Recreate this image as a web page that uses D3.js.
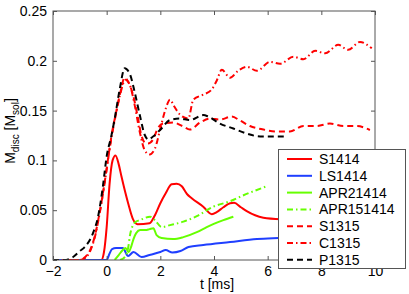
<!DOCTYPE html>
<html><head><meta charset="utf-8">
<script src="https://cdn.jsdelivr.net/npm/d3@7"></script>
<style>body{margin:0;background:#fff}svg{display:block}text{font-family:"Liberation Sans",Arial,sans-serif}</style>
</head><body><svg id="c" width="409" height="294"></svg>
<script>
const xTicks=[-2,0,2,4,6,8,10];
const yTicks=[0,0.05,0.1,0.15,0.2,0.25];
const yTickLabels=["0","0.05","0.1","0.15","0.2","0.25"];
const seriesNames=["S1414","LS1414","APR21414","APR151414","S1315","C1315","P1315"];
const S1414=[[-2,0],[-0.2,0],[-0.1,0.008],[0,0.033],[0.11,0.077],[0.22,0.1],[0.33,0.105],[0.45,0.096],[0.55,0.084],[0.8,0.057],[0.98,0.041],[1.15,0.036],[1.6,0.037],[1.8,0.045],[2.0,0.057],[2.2,0.067],[2.42,0.076],[2.61,0.0765],[2.8,0.074],[3.0,0.066],[3.17,0.062],[3.6,0.0535],[3.92,0.046],[4.1,0.048],[4.35,0.053],[4.6,0.057],[4.75,0.0575],[5.0,0.053],[5.22,0.049],[5.84,0.0425],[6.5,0.041]];
const LS1414=[[-2,0],[0,0],[0.1,0.006],[0.2,0.011],[0.35,0.012],[0.6,0.012],[0.8,0.004],[1.0,0.008],[1.3,0.003],[1.6,0.005],[2.0,0.008],[2.2,0.010],[2.45,0.0075],[2.75,0.009],[3.05,0.013],[3.6,0.015],[4.6,0.018],[5.6,0.021],[6.4,0.022],[7.5,0.023]];
const APR21414=[[0.3,0],[0.45,0.005],[0.6,0.010],[0.7,0.012],[0.82,0.008],[0.92,0.014],[1.0,0.021],[1.1,0.027],[1.25,0.030],[1.45,0.030],[1.6,0.031],[1.74,0.032],[1.86,0.025],[2.05,0.022],[2.48,0.021],[2.86,0.023],[3.36,0.028],[3.73,0.033],[3.97,0.036],[4.35,0.040],[4.72,0.0435]];
const APR151414=[[0.5,0],[0.7,0.004],[0.8,0.012],[0.87,0.025],[0.95,0.033],[1.06,0.038],[1.24,0.040],[1.62,0.0435],[1.8,0.040],[2.05,0.033],[2.36,0.035],[2.86,0.0385],[3.36,0.044],[3.97,0.0535],[4.6,0.059],[5.1,0.065],[5.96,0.074]];
const S1315=[[-2,0],[-1.0,0],[-0.8,0.003],[-0.6,0.011],[-0.45,0.023],[-0.26,0.048],[-0.07,0.079],[0.08,0.107],[0.2,0.128],[0.35,0.148],[0.5,0.167],[0.67,0.183],[0.8,0.179],[0.98,0.166],[1.17,0.142],[1.29,0.1255],[1.42,0.118],[1.54,0.117],[1.73,0.121],[1.9,0.132],[2.1,0.137],[2.48,0.138],[2.86,0.134],[3.1,0.131],[3.48,0.138],[3.85,0.142],[4.22,0.141],[4.66,0.144],[4.97,0.140],[5.34,0.1345],[5.84,0.131],[6.34,0.129],[6.83,0.129],[7.33,0.1345],[7.83,0.1345],[8.32,0.137],[8.82,0.1345],[9.32,0.1345],[9.81,0.1305]];
const C1315=[[-2,0],[-1.0,0],[-0.8,0.002],[-0.6,0.010],[-0.45,0.022],[-0.26,0.047],[-0.07,0.078],[0.08,0.106],[0.2,0.126],[0.35,0.147],[0.5,0.166],[0.7,0.181],[0.86,0.176],[1.04,0.156],[1.23,0.129],[1.42,0.110],[1.6,0.106],[1.8,0.112],[2.0,0.132],[2.2,0.152],[2.36,0.161],[2.5,0.155],[2.73,0.146],[3.04,0.142],[3.23,0.161],[3.6,0.166],[3.91,0.171],[4.1,0.18],[4.29,0.191],[4.6,0.183],[4.9,0.19],[5.22,0.194],[5.6,0.190],[6.09,0.199],[6.46,0.197],[6.96,0.204],[7.33,0.2015],[7.77,0.210],[8.14,0.2075],[8.63,0.216],[9.0,0.211],[9.44,0.219],[9.88,0.2125]];
const P1315=[[-2,0],[-1.6,0],[-1.25,0.003],[-1.0,0.009],[-0.82,0.013],[-0.51,0.027],[-0.32,0.0435],[-0.14,0.074],[0.0,0.104],[0.17,0.124],[0.3,0.142],[0.49,0.172],[0.67,0.1925],[0.86,0.187],[1.04,0.169],[1.23,0.146],[1.42,0.1255],[1.55,0.121],[1.73,0.124],[1.99,0.1305],[2.36,0.1405],[2.73,0.142],[3.1,0.1405],[3.6,0.1455],[3.79,0.144],[4.22,0.137],[4.72,0.132],[5.22,0.127],[5.72,0.124],[6.6,0.124]];

const seriesData=[S1414,LS1414,APR21414,APR151414,S1315,C1315,P1315];
const colors=["#ff0000","#1f3fff","#66ff00","#66ff00","#ff0000","#ff0000","#000000"];
const dashes=[null,null,null,"6,3,1.5,3","6,4","6,3,1.5,3","6,4"];

const svg=d3.select("#c");
const L=53,R=375,T=11,B=260;
const x=d3.scaleLinear().domain([-2,10]).range([L,R]);
const y=d3.scaleLinear().domain([0,0.25]).range([B,T]);

svg.append("clipPath").attr("id","clp").append("rect").attr("x",L).attr("y",T-2).attr("width",R-L).attr("height",B-T+2);
const line=d3.line().x(d=>x(d[0])).y(d=>y(d[1])).curve(d3.curveMonotoneX);
const g=svg.append("g").attr("clip-path","url(#clp)");
seriesData.forEach((s,i)=>{
  g.append("path").attr("d",line(s)).attr("fill","none").attr("stroke",colors[i]).attr("stroke-width",2)
   .attr("stroke-dasharray",dashes[i]);
});

const axc="#555";
svg.append("rect").attr("x",L).attr("y",T).attr("width",R-L).attr("height",B-T).attr("fill","none").attr("stroke",axc).attr("stroke-width",1);
const xb=svg.append("g").attr("transform",`translate(0,${B})`).call(d3.axisBottom(x).tickValues(xTicks).tickSize(-4).tickPadding(6).tickFormat(d=>d<0?"\u2212"+Math.abs(d):d));
const xt=svg.append("g").attr("transform",`translate(0,${T})`).call(d3.axisTop(x).tickValues(xTicks).tickSize(-4).tickFormat(""));
const yl=svg.append("g").attr("transform",`translate(${L},0)`).call(d3.axisLeft(y).tickValues(yTicks).tickSize(-4).tickPadding(6).tickFormat((d,i)=>yTickLabels[i]));
const yr=svg.append("g").attr("transform",`translate(${R},0)`).call(d3.axisRight(y).tickValues(yTicks).tickSize(-4).tickFormat(""));
[xb,xt,yl,yr].forEach(a=>{a.select(".domain").remove();a.selectAll("line").attr("stroke",axc);a.selectAll("text").attr("fill","#000").attr("font-size",14).attr("font-family","Liberation Sans, Arial, sans-serif");});

svg.append("text").attr("x",(L+R)/2+3).attr("y",289).attr("text-anchor","middle").attr("font-size",14).text("t [ms]");
const yt=svg.append("text").attr("transform","translate(15,131) rotate(-90)").attr("text-anchor","middle").attr("font-size",14);
yt.append("tspan").text("M");
yt.append("tspan").attr("dy",4).attr("font-size",10).text("disc");
yt.append("tspan").attr("dy",-4).text(" [M");
yt.append("tspan").attr("dy",4).attr("font-size",10).text("sol");
yt.append("tspan").attr("dy",-4).text("]");

const lg=svg.append("g");
lg.append("rect").attr("x",278.5).attr("y",149.5).attr("width",127).attr("height",119).attr("fill","#fff").attr("stroke",axc);
seriesNames.forEach((n,i)=>{
  const yy=159+i*16.8;
  lg.append("line").attr("x1",287).attr("x2",312).attr("y1",yy).attr("y2",yy).attr("stroke",colors[i]).attr("stroke-width",2).attr("stroke-dasharray",dashes[i]);
  lg.append("text").attr("x",319).attr("y",yy+5).attr("font-size",14).text(n);
});
</script></body></html>
